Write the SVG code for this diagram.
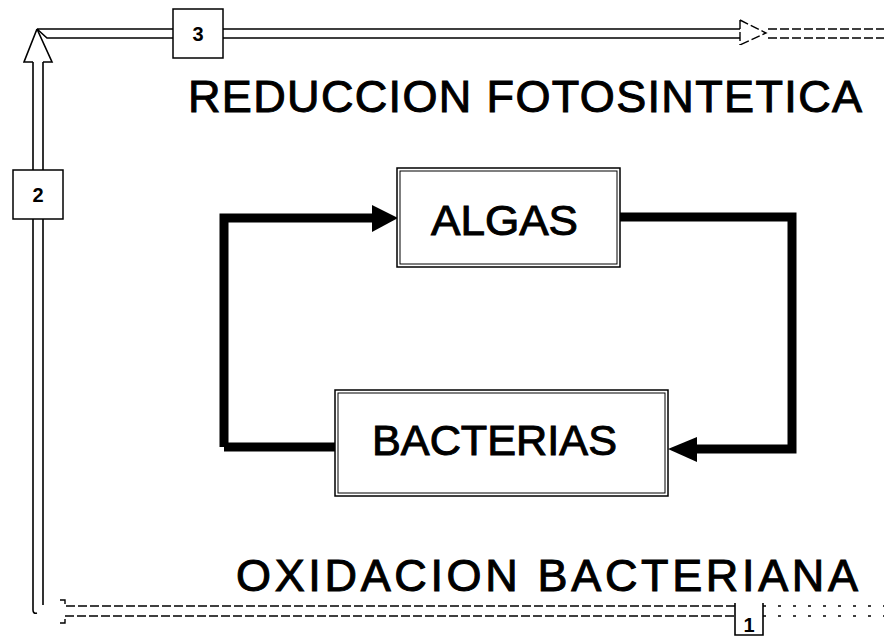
<svg xmlns="http://www.w3.org/2000/svg" width="884" height="637" viewBox="0 0 884 637">
<style>
.t{font-family:"Liberation Sans",Arial,sans-serif;fill:#000}
.big{font-size:45px;stroke:#000;stroke-width:1}
.node{font-size:43px;stroke:#000;stroke-width:1}
.num{font-size:20px;font-weight:bold}
.pipe{fill:none;stroke:#000;stroke-width:1.6}
.dash{fill:none;stroke:#000;stroke-width:1.4;stroke-dasharray:9 3}
.dot{fill:none;stroke:#000;stroke-width:1.4;stroke-dasharray:3 12}
.thick{fill:none;stroke:#000;stroke-width:9}
.box{fill:#fff;stroke:#000;stroke-width:1.5}
</style>
<rect width="884" height="637" fill="#fff"/>
<g id="connectors">
  <path class="pipe" d="M37 29 L173 29 M37 29 L47 38 L173 38 M223 29 L740 29 M223 38 L740 38"/>
  <path class="dash" d="M740 20 L740 45 M740 20 L766 33 L740 45"/>
  <path class="dash" d="M768 29 L884 29 M768 38 L884 38"/>
  <path class="pipe" d="M37 29 L24 62 L33 62 M37 29 L52 62 L43 62"/>
  <path class="pipe" d="M33 62 L33 170 M43 62 L43 170 M33 219 L33 610 Q33 614 37 613 M43 219 L43 605"/>
  <path class="dash" d="M60 600 L65 600 L65 606 L735 606 M60 623 L65 623 L65 616 L735 616"/>
  <path class="dot" d="M763 606 L884 606 M763 616 L884 616"/>
  <path class="thick" d="M224 447 L224 218 L372 218"/>
  <polygon points="372,205 398,218 372,232" fill="#000"/>
  <path class="thick" d="M620 217 L792 217 L792 449 L697 449"/>
  <polygon points="697,437 668,449 697,462" fill="#000"/>
  <path class="thick" d="M224 447 L335 447"/>
</g>
<g id="box3">
  <rect class="box" x="173" y="9" width="50" height="49"/>
  <text class="t num" x="198" y="41" text-anchor="middle">3</text>
</g>
<g id="box2">
  <rect class="box" x="13" y="170" width="50" height="49"/>
  <text class="t num" x="38" y="202" text-anchor="middle">2</text>
</g>
<g id="box1">
  <path class="pipe" d="M735 603 L735 635 L763 635 L763 603"/>
  <text class="t num" x="749" y="632" text-anchor="middle">1</text>
</g>
<g id="title">
  <text class="t big" x="188" y="112" textLength="674" lengthAdjust="spacing">REDUCCION  FOTOSINTETICA</text>
</g>
<g id="subtitle">
  <text class="t big" x="236" y="591" textLength="622" lengthAdjust="spacing">OXIDACION  BACTERIANA</text>
</g>
<g id="algas">
  <rect class="box" x="397" y="168" width="223" height="99"/>
  <rect x="400" y="171" width="217" height="93" fill="none" stroke="#000" stroke-width="1"/>
  <text class="t node" x="431" y="235" textLength="147" lengthAdjust="spacingAndGlyphs">ALGAS</text>
</g>
<g id="bacterias">
  <rect class="box" x="335" y="390" width="333" height="106"/>
  <rect x="338" y="393" width="327" height="100" fill="none" stroke="#000" stroke-width="1"/>
  <text class="t node" x="372" y="455" textLength="245" lengthAdjust="spacingAndGlyphs">BACTERIAS</text>
</g>
</svg>
